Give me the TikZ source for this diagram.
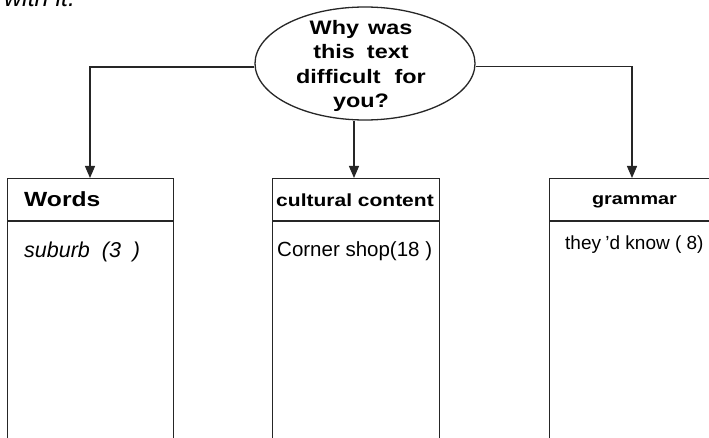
\documentclass[tikz,border=0pt]{standalone}
\usepackage{fontspec}
\setmainfont{Liberation Sans}
\newfontfamily\hdfont{Liberation Sans}[FakeStretch=1.2]
\usetikzlibrary{arrows.meta,shapes.geometric}
\tikzset{
  ln/.style={line width=1.3pt, draw=black!85},
  arr/.style={ln, -{Triangle[length=12pt,width=10pt]}},
  colbox/.style={ln, rectangle, inner sep=0pt, anchor=north west, minimum height=270pt},
  hd/.style={inner sep=0pt, font=\hdfont\bfseries},
  bodytxt/.style={inner sep=0pt, anchor=base west},
}
\begin{document}
\begin{tikzpicture}[x=1pt,y=-1pt]
\useasboundingbox (0,0) rectangle (709,438);
\clip (0,0) rectangle (709,438);
% cut-off text at top
\node[inner sep=0pt, anchor=base west, font=\itshape\fontsize{25}{28}\selectfont] (top) at (4,7) {with it.};
% ellipse
\node[ln, ellipse, minimum width=220pt, minimum height=113pt, inner sep=0pt] (q) at (365,63.5) {};
\node[hd, align=center, font=\hdfont\bfseries\fontsize{19.5}{24.5}\selectfont] (qt) at (361,66)
  {Why\hspace{9pt}was\\this\hspace{12pt}text\\difficult\hspace{14pt}for\\you?};
% boxes
\node[colbox, minimum width=166pt] (wbox) at (7,178) {};
\node[colbox, minimum width=167pt] (cbox) at (272,178) {};
\node[colbox, minimum width=180pt] (gbox) at (549,178) {};
\draw[ln] (wbox.west |- 0,221) -- (wbox.east |- 0,221);
\draw[ln] (cbox.west |- 0,221) -- (cbox.east |- 0,221);
\draw[ln] (gbox.west |- 0,221) -- (gbox.east |- 0,221);
% headers
\node[hd, anchor=base west, font=\hdfont\bfseries\fontsize{20.5}{24}\selectfont] (wh) at (24,206.5) {Words};
\node[hd, anchor=base, font=\hdfont\bfseries\fontsize{17.5}{20}\selectfont] (ch) at (355,206.5) {cultural content};
\node[hd, anchor=base, font=\hdfont\bfseries\fontsize{16.5}{20}\selectfont] (gh) at (634.5,205) {grammar};
% body
\node[bodytxt, font=\itshape\fontsize{21.5}{24}\selectfont] (wt) at (24,258) {suburb\ \ (3\ \ )};
\node[bodytxt, font=\fontsize{20.5}{24}\selectfont] (ct) at (277,257) {Corner shop(18 )};
\node[bodytxt, font=\fontsize{19}{24}\selectfont] (gt) at (565,249.5) {they \kern-1pt'd know ( 8)};
% connectors
\coordinate (wa) at (90,178);
\coordinate (ca) at (354,178);
\coordinate (ga) at (632,178);
\draw[arr] ([yshift=-3.5pt]q.west) -| (wa);
\draw[arr] ([yshift=-3pt]q.east) -| (ga);
\draw[arr] (q.south -| ca) -- (ca);
\end{tikzpicture}
\end{document}
